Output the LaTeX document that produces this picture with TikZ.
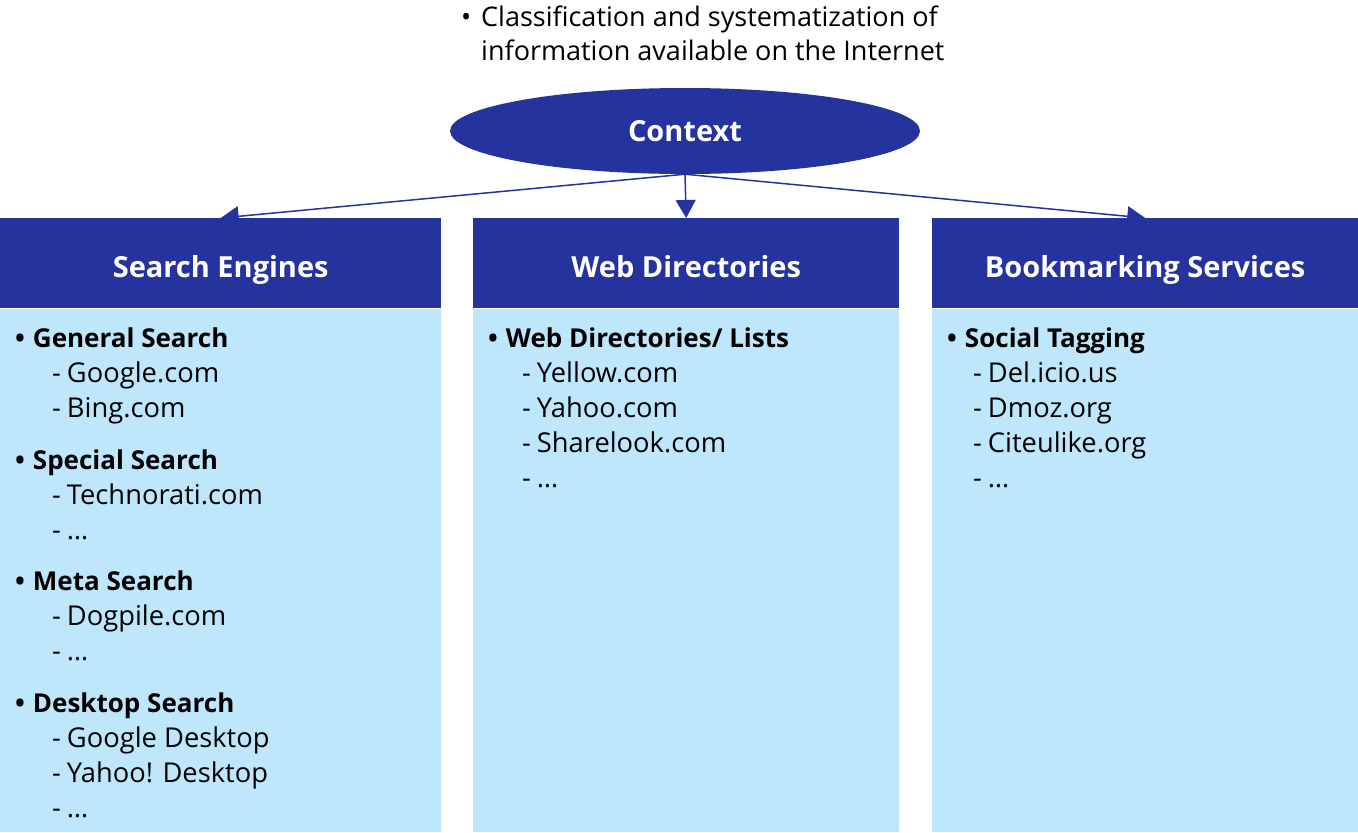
\documentclass[tikz,border=0pt]{standalone}
\usepackage{fontspec}
\setmainfont{Open Sans}
\usetikzlibrary{arrows.meta,positioning,shapes.geometric}
\definecolor{ctxblue}{RGB}{37,51,158}
\definecolor{paleblue}{RGB}{190,231,252}
\tikzset{
    hdr/.style={rectangle, fill=ctxblue, text=white, font=\fontsize{29}{34}\selectfont\bfseries, inner sep=0,
                minimum height=90pt, text height=28pt, text depth=0pt},
    lst/.style={rectangle, fill=paleblue, inner sep=0, anchor=north west},
    grp/.style={anchor=base west, inner sep=0, font=\fontsize{26}{34}\selectfont\bfseries},
    itm/.style={anchor=base west, inner sep=0, font=\fontsize{27.3}{34}\selectfont},
    conn/.style={draw=ctxblue, line width=1.5pt, -{Triangle[length=18pt,width=20pt]}}
}
\begin{document}
\begin{tikzpicture}[x=1pt,y=-1pt]
        \useasboundingbox (0,0) rectangle (1358,833);
        % top note and context
        \node[align=left, anchor=base west, inner sep=0, font=\fontsize{27}{34}\selectfont] (note) at (481,60)
            {\llap{\textbullet\hspace{10pt}}Classification and systematization of\\information available on the Internet};
        \node[ellipse, fill=ctxblue, text=white, minimum width=470pt, minimum height=86pt, inner sep=0,
              font=\fontsize{29}{34}\selectfont\bfseries] (ctx) at (685,131) {Context};
        % column headers
        \node[hdr, minimum width=441pt, anchor=north west] (se) at (0,218) {Search Engines};
        \node[hdr, minimum width=426pt, anchor=north west] (wd) at (473,218) {Web Directories};
        \node[hdr, minimum width=426pt, anchor=north west] (bm) at (932,218) {Bookmarking Services};
        % column bodies
        \node[lst, minimum width=441pt, minimum height=523pt] (seb) at (se.south west) {};
        \node[lst, minimum width=426pt, minimum height=523pt] (wdb) at (wd.south west) {};
        \node[lst, minimum width=426pt, minimum height=523pt] (bmb) at (bm.south west) {};
        \draw[conn] (ctx.south) -- (se.north);
        \draw[conn] (ctx.south) -- (wd.north);
        \draw[conn] (ctx.south) -- (bm.north);
        % search engines
        \foreach \n/\y/\t in {1/347/General Search, 2/469/Special Search, 3/590/Meta Search, 4/712/Desktop Search}
            \node[grp] (se-g\n) at (15,\y) {\textbullet\hspace{8pt}\t};
        \foreach \n/\y/\t in {1/382/Google.com, 2/417/Bing.com, 3/504/Technorati.com, 4/539/\dots, 5/625/Dogpile.com,
                              6/660/\dots, 7/747/Google Desktop, 8/782/Yahoo! Desktop, 9/817/\dots}
            \node[itm] (se-i\n) at (52,\y) {-\hspace{6pt}\t};
        % web directories
        \node[grp] (wd-g1) at (488,347) {\textbullet\hspace{8pt}Web Directories/ Lists};
        \foreach \n/\y/\t in {1/382/Yellow.com, 2/417/Yahoo.com, 3/452/Sharelook.com, 4/487/\dots}
            \node[itm] (wd-i\n) at (522,\y) {-\hspace{6pt}\t};
        % bookmarking services
        \node[grp] (bm-g1) at (947,347) {\textbullet\hspace{8pt}Social Tagging};
        \foreach \n/\y/\t in {1/382/Del.icio.us, 2/417/Dmoz.org, 3/452/Citeulike.org, 4/487/\dots}
            \node[itm] (bm-i\n) at (973,\y) {-\hspace{6pt}\t};
    \end{tikzpicture}
\end{document}
